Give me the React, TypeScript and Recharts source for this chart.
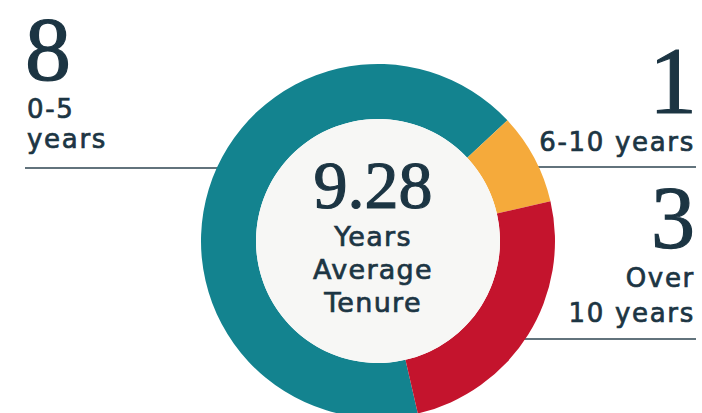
import { PieChart, Pie, Cell } from 'recharts';

const categories = ['0-5 years', '6-10 years', 'Over 10 years'];
const counts = [8, 1, 3];
const colors = ['#13838f', '#f5aa3b', '#c4142d'];
const averageTenure = '9.28';
const centerLines = ['Years', 'Average', 'Tenure'];

const data = categories.map((name, i) => ({ name, value: counts[i] }));
const hole = [{ name: 'hole', value: 1 }];

const W = 702;
const H = 413;
const ink = '#1c3543';
const serif = '"Liberation Serif", "Times New Roman", serif';
const sans = '"DejaVu Sans", "Open Sans", sans-serif';

// a thin outline on the text to get close to the medium weight of the original
const sansProps = { fontFamily: sans, fontSize: 26, letterSpacing: 1.7, stroke: ink, strokeWidth: 0.7 };
const serifProps = { fontFamily: serif, stroke: ink, strokeWidth: 1.2 };

export default function App() {
  return (
    <div style={{ position: 'relative', width: W, height: H, background: '#fff', overflow: 'hidden' }}>
      <style>{`body{margin:0}`}</style>
      {/* leader lines sit behind the donut */}
      <svg width={W} height={H} style={{ position: 'absolute', left: 0, top: 0 }}>
        <line x1={25} x2={230} y1={168} y2={168} stroke="#2e4450" strokeWidth={1.6} />
        <line x1={520} x2={696} y1={167} y2={167} stroke="#2e4450" strokeWidth={1.6} />
        <line x1={500} x2={696} y1={339} y2={339} stroke="#2e4450" strokeWidth={1.6} />
      </svg>
      <div style={{ position: 'absolute', left: 0, top: 0 }}>
        <PieChart width={W} height={H}>
          <Pie
            data={data}
            dataKey="value"
            cx={373}
            cy={236}
            innerRadius={122}
            outerRadius={177}
            startAngle={-77}
            endAngle={-437}
            stroke="none"
            isAnimationActive={false}
          >
            {data.map((entry, index) => (
              <Cell key={`cell-${index}`} fill={colors[index]} />
            ))}
          </Pie>
          <Pie
            data={hole}
            dataKey="value"
            cx={373}
            cy={236}
            innerRadius={0}
            outerRadius={122}
            fill="#f7f7f5"
            stroke="none"
            isAnimationActive={false}
          />
        </PieChart>
      </div>
      <svg width={W} height={H} style={{ position: 'absolute', left: 0, top: 0, pointerEvents: 'none' }}>
        <g fill={ink}>
          <text x={25} y={80} fontSize={92} {...serifProps}>{counts[0]}</text>
          <text x={27} y={118} {...sansProps}>0-5</text>
          <text x={27} y={148} {...sansProps}>years</text>

          <text x={697} y={113} textAnchor="end" fontSize={96} {...serifProps}>{counts[1]}</text>
          <text x={695} y={151} textAnchor="end" {...sansProps}>6-10 years</text>

          <text x={695} y={247} textAnchor="end" fontSize={88} {...serifProps}>{counts[2]}</text>
          <text x={695} y={287} textAnchor="end" {...sansProps}>Over</text>
          <text x={695} y={322} textAnchor="end" {...sansProps}>10 years</text>

          <text x={373} y={208} textAnchor="middle" fontSize={68} {...serifProps}>{averageTenure}</text>
          {centerLines.map((t, i) => (
            <text key={t} x={373} y={246 + i * 33} textAnchor="middle" {...sansProps} fontSize={27} letterSpacing={1.3}>
              {t}
            </text>
          ))}
        </g>
      </svg>
    </div>
  );
}
